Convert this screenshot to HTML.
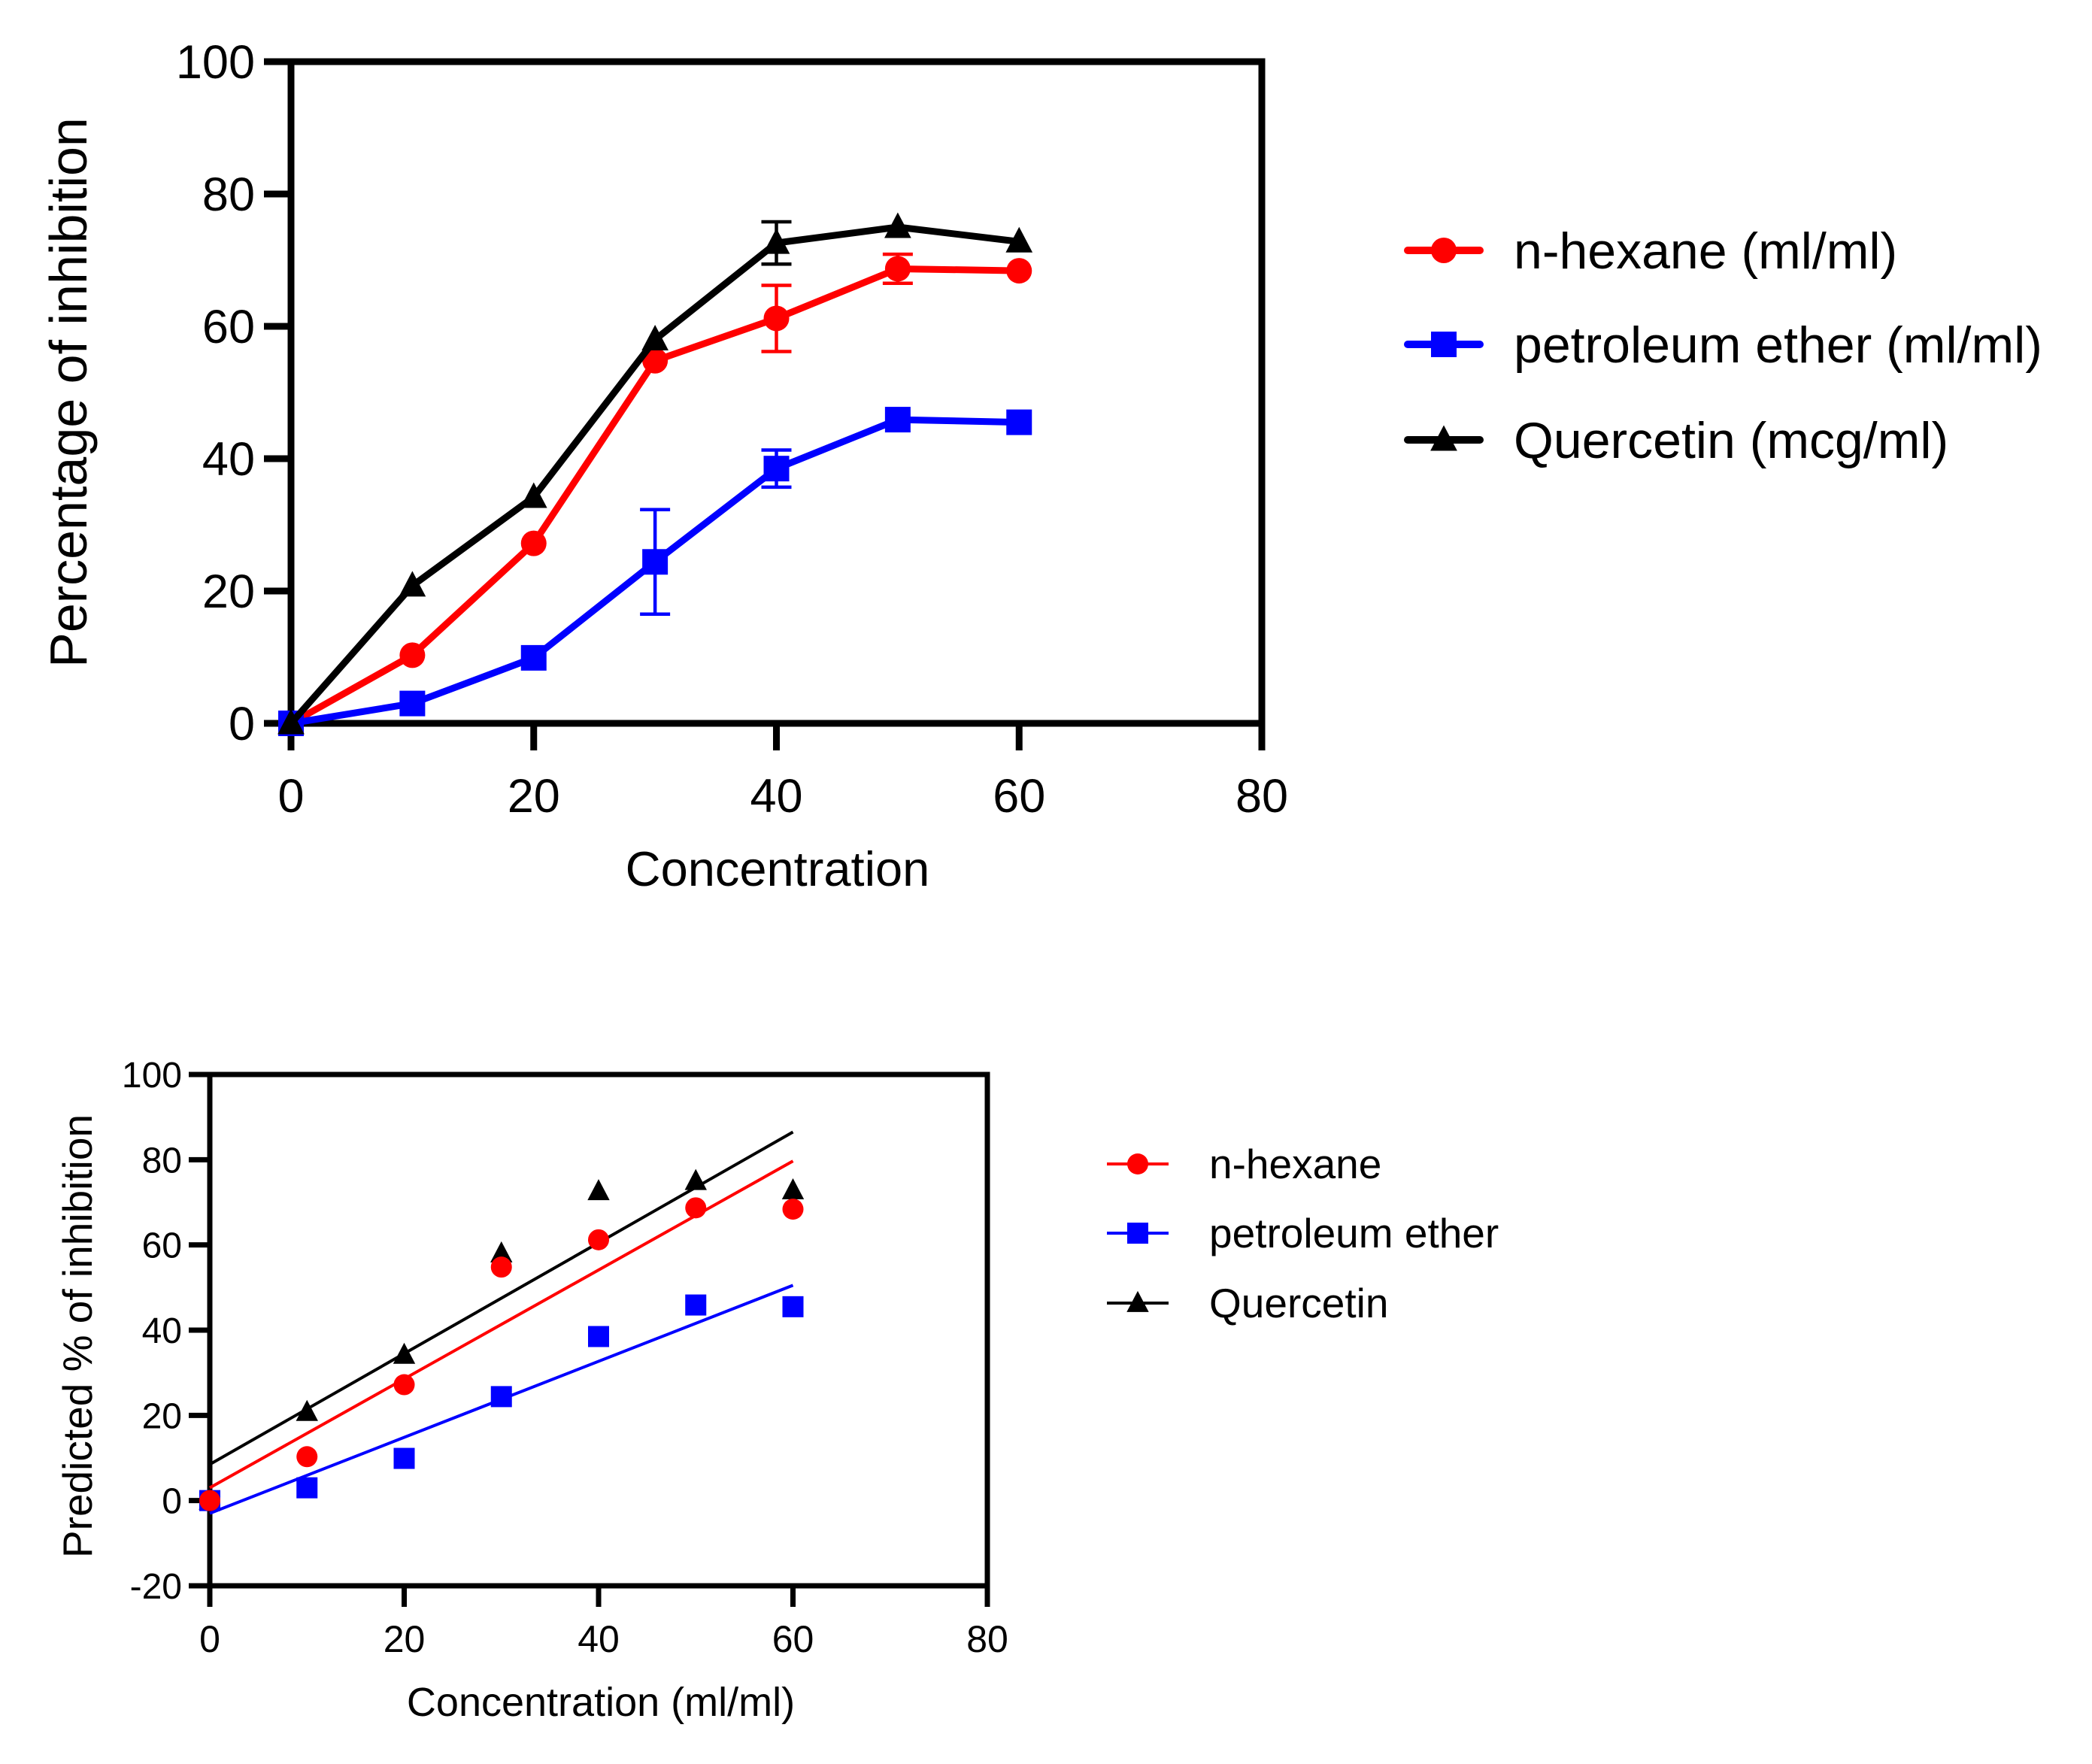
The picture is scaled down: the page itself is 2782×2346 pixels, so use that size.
<!DOCTYPE html>
<html><head><meta charset="utf-8">
<style>
html,body{margin:0;padding:0;background:#fff;}
svg{display:block;font-family:"Liberation Sans",Arial,sans-serif;}
</style></head>
<body>
<svg id="chart" width="2782" height="2346" viewBox="0 0 2782 2346" xmlns="http://www.w3.org/2000/svg">
<rect width="2782" height="2346" fill="#fff"/>
<g id="top"></g>
<g id="bot"></g>
</svg>
<script>
const xCats = [0,10,20,30,40,50,60];
const hexane = [0,10.3,27.2,54.8,61.2,68.7,68.4];
const petEther = [0,3.0,9.9,24.4,38.5,45.9,45.5];
const quercetin = [0,20.8,34.2,58.0,72.6,75.0,72.8];
const hexaneErr = [0,0,0,0,5.0,2.2,0];
const petEtherErr = [0,0,0,7.9,2.8,0,0];
const quercetinErr = [0,0,0,0,3.2,0,0];
const fitIntercept = [3.0,-3.0,8.5];
const fitSlope = [1.278,0.892,1.3];
const topYTicks = [0,20,40,60,80,100];
const topXTicks = [0,20,40,60,80];
const botYTicks = [-20,0,20,40,60,80,100];
const botXTicks = [0,20,40,60,80];
const seriesNames = ["n-hexane (ml/ml)","petroleum ether (ml/ml)","Quercetin (mcg/ml)"];
const seriesNamesBot = ["n-hexane","petroleum ether","Quercetin"];

const NS="http://www.w3.org/2000/svg";
function el(parent,tag,attrs,text){const e=document.createElementNS(NS,tag);for(const k in attrs)e.setAttribute(k,attrs[k]);if(text!==undefined)e.textContent=text;parent.appendChild(e);return e;}
const colors=["#ff0000","#0000ff","#000000"];
const shapes=["circle","square","triangle"];
const data=[hexane,petEther,quercetin];
const errs=[hexaneErr,petEtherErr,quercetinErr];

function marker(g,shape,cx,cy,s,color){
  let m;
  if(shape==="circle") m=el(g,"circle",{cx:cx,cy:cy,r:s,fill:color});
  else if(shape==="square") m=el(g,"rect",{x:cx-s,y:cy-s,width:2*s,height:2*s,fill:color});
  else m=el(g,"polygon",{points:`${cx},${cy-s*1.15} ${cx-s*1.05},${cy+s*0.85} ${cx+s*1.05},${cy+s*0.85}`,fill:color});
  return m;
}

/* ---------- TOP CHART ---------- */
(function(){
  const g=document.getElementById("top");
  const X0=387,X1=1678,Y0=962,Y1=82;
  const sx=v=>X0+(v-0)/(80-0)*(X1-X0);
  const sy=v=>Y0-(v-0)/(100-0)*(Y0-Y1);
  let a=el(g,"polyline",{points:`${X0},${Y1} ${X1},${Y1}`,stroke:"#000","stroke-width":9,fill:"none"});
  
  a=el(g,"line",{x1:X1,y1:Y1-4.5,x2:X1,y2:Y0+36,stroke:"#000","stroke-width":9});
  
  a=el(g,"line",{x1:X0,y1:Y1-4.5,x2:X0,y2:Y0+36,stroke:"#000","stroke-width":9});
  
  a=el(g,"line",{x1:X0-36,y1:Y0,x2:X1+4.5,y2:Y0,stroke:"#000","stroke-width":9});
  
  topYTicks.forEach(t=>{
    const tk=el(g,"line",{x1:X0-36,y1:sy(t),x2:X0,y2:sy(t),stroke:"#000","stroke-width":9});
    
    const tl=el(g,"text",{x:X0-48,y:sy(t)+22,"text-anchor":"end","font-size":63},String(t));
    
  });
  topXTicks.forEach(t=>{
    const tk=el(g,"line",{x1:sx(t),y1:Y0,x2:sx(t),y2:Y0+36,stroke:"#000","stroke-width":9});
    
    const tl=el(g,"text",{x:sx(t),y:Y0+118,"text-anchor":"middle","font-size":63},String(t));
    
  });
  let t=el(g,"text",{x:1034,y:1178,"text-anchor":"middle","font-size":65},"Concentration");
  
  t=el(g,"text",{x:0,y:0,"text-anchor":"middle","font-size":70,transform:"translate(115,522) rotate(-90)"},"Percentage of inhibition");
  
  [0,1,2].forEach(i=>{
    const sg=el(g,"g",{});
    
    
    xCats.forEach((x,j)=>{
      const e=errs[i][j]; if(!e) return;
      const eg=el(sg,"g",{stroke:colors[i],"stroke-width":4.5});
      
      el(eg,"line",{x1:sx(x),y1:sy(data[i][j]-e),x2:sx(x),y2:sy(data[i][j]+e)});
      el(eg,"line",{x1:sx(x)-20,y1:sy(data[i][j]-e),x2:sx(x)+20,y2:sy(data[i][j]-e)});
      el(eg,"line",{x1:sx(x)-20,y1:sy(data[i][j]+e),x2:sx(x)+20,y2:sy(data[i][j]+e)});
    });
    const pl=el(sg,"polyline",{points:xCats.map((x,j)=>sx(x)+","+sy(data[i][j])).join(" "),stroke:colors[i],"stroke-width":9,fill:"none","stroke-linejoin":"round"});
    
    xCats.forEach((x,j)=>{
      const m=marker(sg,shapes[i],sx(x),sy(data[i][j]),17,colors[i]);
      
    });
  });
  const rows=[333,458,585];
  const lg=el(g,"g",{});
  [0,1,2].forEach(i=>{
    const eg=el(lg,"g",{});
    
    el(eg,"line",{x1:1872,y1:rows[i],x2:1968,y2:rows[i],stroke:colors[i],"stroke-width":10,"stroke-linecap":"round"});
    marker(eg,shapes[i],1920,rows[i],17,colors[i]);
    el(eg,"text",{x:2013,y:rows[i]+24,"font-size":68},seriesNames[i]);
  });
})();

/* ---------- BOTTOM CHART ---------- */
(function(){
  const g=document.getElementById("bot");
  const X0=279,X1=1313,Y0=2109,Y1=1429;
  const sx=v=>X0+(v-0)/(80-0)*(X1-X0);
  const sy=v=>Y0-(v-(-20))/(100-(-20))*(Y0-Y1);
  let a=el(g,"line",{x1:X0,y1:Y1,x2:X1+3.5,y2:Y1,stroke:"#000","stroke-width":7});
  
  a=el(g,"line",{x1:X1,y1:Y1-3.5,x2:X1,y2:Y0+28,stroke:"#000","stroke-width":7});
  
  a=el(g,"line",{x1:X0,y1:Y1-3.5,x2:X0,y2:Y0+28,stroke:"#000","stroke-width":7});
  
  a=el(g,"line",{x1:X0-28,y1:Y0,x2:X1,y2:Y0,stroke:"#000","stroke-width":7});
  
  botYTicks.forEach(t=>{
    const tk=el(g,"line",{x1:X0-28,y1:sy(t),x2:X0,y2:sy(t),stroke:"#000","stroke-width":7});
    
    const tl=el(g,"text",{x:X0-37,y:sy(t)+17,"text-anchor":"end","font-size":48},String(t));
    
  });
  botXTicks.forEach(t=>{
    const tk=el(g,"line",{x1:sx(t),y1:Y0,x2:sx(t),y2:Y0+28,stroke:"#000","stroke-width":7});
    
    const tl=el(g,"text",{x:sx(t),y:Y0+88,"text-anchor":"middle","font-size":50},String(t));
    
  });
  let t=el(g,"text",{x:799,y:2282,"text-anchor":"middle","font-size":54},"Concentration (ml/ml)");
  
  t=el(g,"text",{x:0,y:0,"text-anchor":"middle","font-size":55,transform:"translate(122,1777) rotate(-90)"},"Predicted % of inhibition");
  
  [2,0,1].forEach(i=>{
    const sg=el(g,"g",{});
    
    
    const xa=xCats[0], xb=xCats[xCats.length-1];
    const fl=el(sg,"line",{x1:sx(xa),y1:sy(fitIntercept[i]+fitSlope[i]*xa),x2:sx(xb),y2:sy(fitIntercept[i]+fitSlope[i]*xb),stroke:colors[i],"stroke-width":4});
    
  });
  [2,1,0].forEach(i=>{
    const sg=el(g,"g",{});
    
    
    xCats.forEach((x,j)=>{
      const m=marker(sg,shapes[i],sx(x),sy(data[i][j]),14,colors[i]);
      
    });
  });
  const rows=[1548,1640,1733];
  const lg=el(g,"g",{});
  [0,1,2].forEach(i=>{
    const eg=el(lg,"g",{});
    
    el(eg,"line",{x1:1472,y1:rows[i],x2:1554,y2:rows[i],stroke:colors[i],"stroke-width":4});
    marker(eg,shapes[i],1513,rows[i],14,colors[i]);
    el(eg,"text",{x:1608,y:rows[i]+19,"font-size":55},seriesNamesBot[i]);
  });
})();
</script>
</body></html>
